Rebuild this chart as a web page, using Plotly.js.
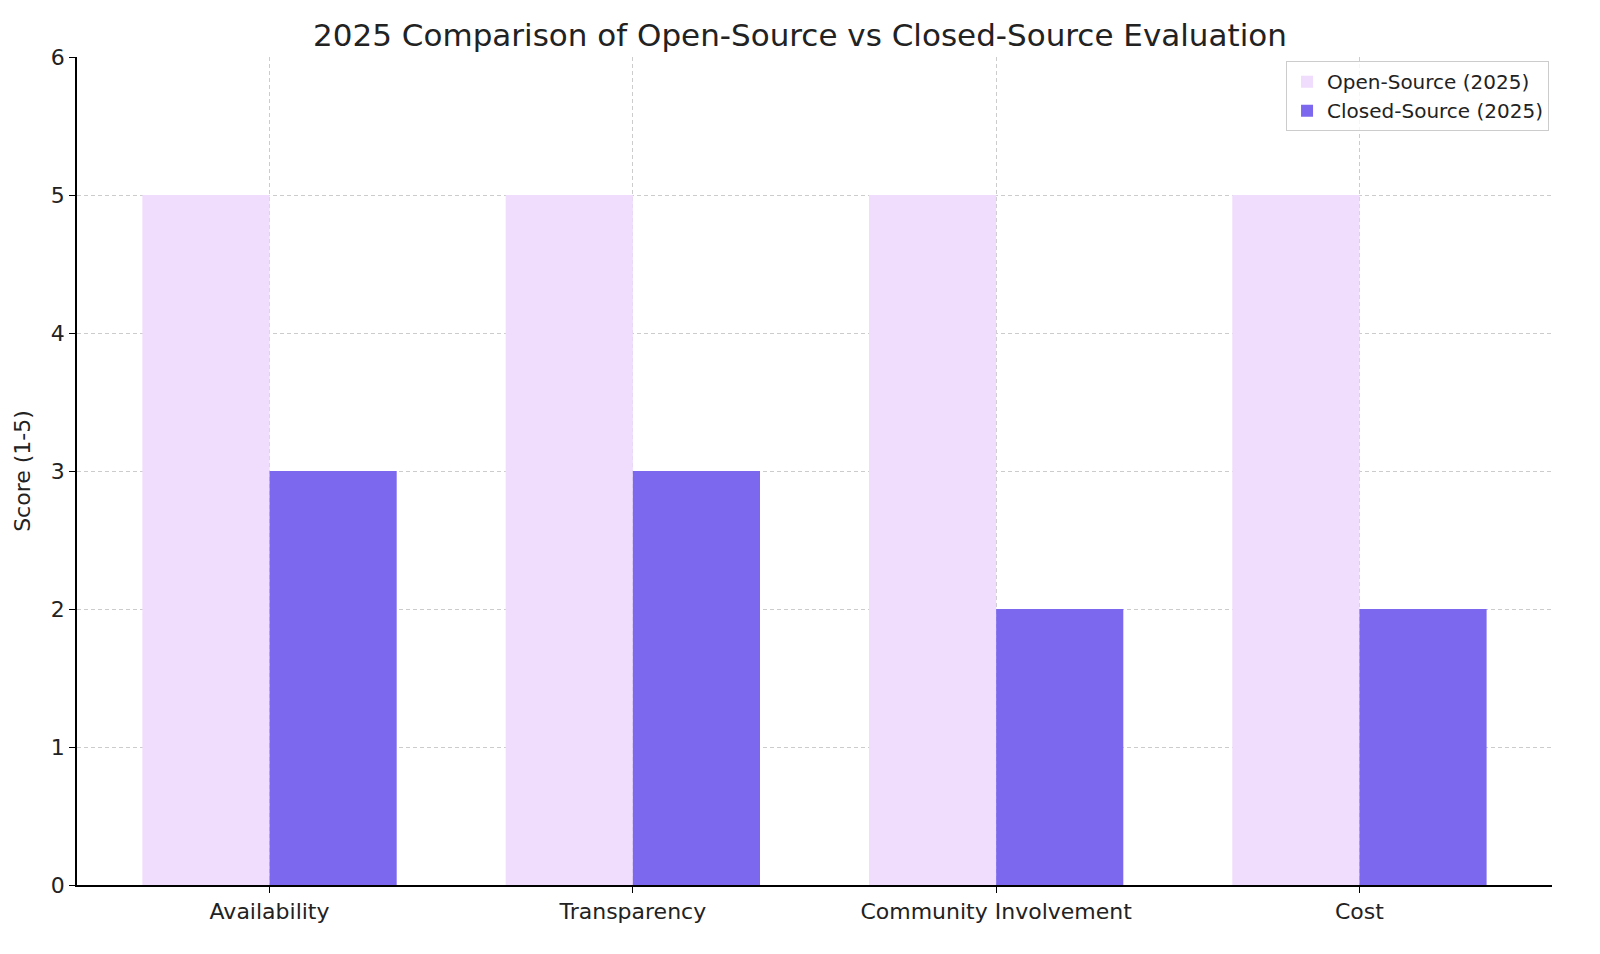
<!DOCTYPE html>
<html>
<head>
<meta charset="utf-8">
<script src="https://cdn.plot.ly/plotly-3.0.1.min.js"></script>
<style>body{margin:0;background:#fff;}</style>
</head>
<body>
<div id="chart" style="width:1600px;height:954px;"></div>
<script>
var categories = ['Availability', 'Transparency', 'Community Involvement', 'Cost'];
var openScores = [5, 5, 5, 5];
var closedScores = [3, 3, 2, 2];

var openBars = {
  type: 'bar',
  name: 'Open-Source (2025)',
  x: categories,
  y: openScores,
  marker: {color: '#f0dcfc'}
};

var closedBars = {
  type: 'bar',
  name: 'Closed-Source (2025)',
  x: categories,
  y: closedScores,
  marker: {color: '#7b68ee'}
};

var layout = {
  width: 1600,
  height: 954,
  margin: {l: 77, r: 48, t: 57, b: 69},
  font: {family: 'DejaVu Sans', size: 22, color: '#222'},
  paper_bgcolor: '#fff',
  plot_bgcolor: '#fff',
  barmode: 'group',
  bargap: 0.3,
  bargroupgap: 0,
  title: {text: '2025 Comparison of Open-Source vs Closed-Source Evaluation', x: 0.5, xanchor: 'center', y: 0.975, font: {size: 31}},
  xaxis: {
    range: [-0.53, 3.53],
    showgrid: true, gridcolor: '#cccccc', griddash: '4px,3px', gridwidth: 1,
    showline: true, linecolor: '#000', linewidth: 1.5,
    ticks: 'outside', ticklen: 6, tickcolor: '#000',
    tickfont: {size: 22}
  },
  yaxis: {
    range: [0, 6], dtick: 1,
    showgrid: true, gridcolor: '#cccccc', griddash: '4px,3px', gridwidth: 1,
    showline: true, linecolor: '#000', linewidth: 1.5,
    ticks: 'outside', ticklen: 6, tickcolor: '#000',
    zeroline: false,
    tickfont: {size: 22},
    title: {text: 'Score (1-5)', font: {size: 22}, standoff: 14}
  },
  legend: {
    x: 0.998, y: 0.995, xanchor: 'right', yanchor: 'top',
    bgcolor: 'rgba(255,255,255,0.8)', bordercolor: '#cccccc', borderwidth: 1,
    font: {size: 20}
  }
};

Plotly.newPlot('chart', [openBars, closedBars], layout, {displayModeBar: false});
</script>
</body>
</html>
